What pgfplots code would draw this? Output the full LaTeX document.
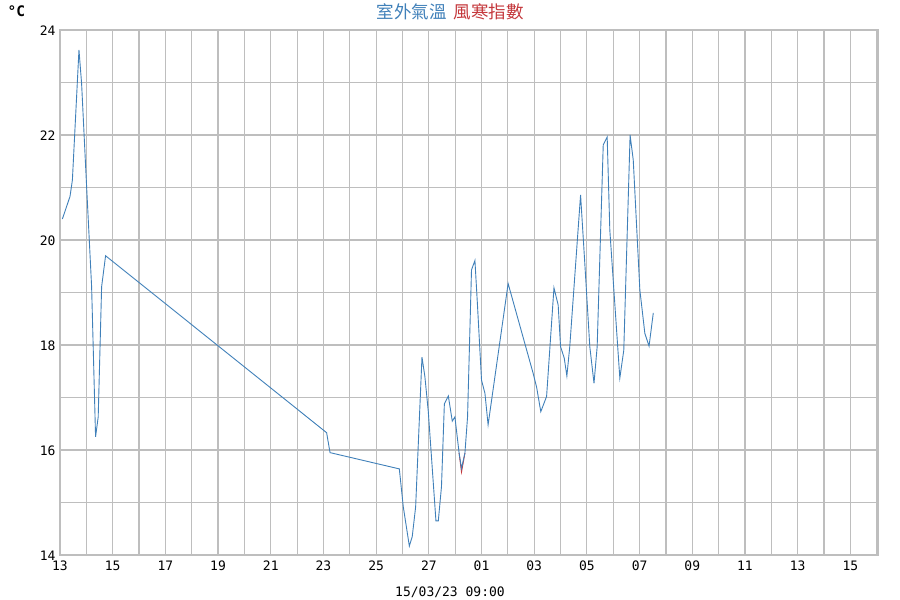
\documentclass[border=0pt]{standalone}
\usepackage{pgfplots}
\pgfplotsset{compat=1.18}
\usepackage{fontspec}
\setmonofont{DejaVu Sans Mono}
\newfontfamily\cjk{Noto Sans CJK TC}
\definecolor{tempblue}{RGB}{64,128,185}
\definecolor{chillred}{RGB}{196,56,60}
\definecolor{gridgray}{RGB}{190,190,190}
\begin{document}
\begin{tikzpicture}
\useasboundingbox (0,0) rectangle (900pt,600pt);
\begin{axis}[
  at={(60pt,45pt)}, anchor=south west,
  scale only axis, width=818pt, height=525pt,
  xmin=0, xmax=31.05, ymin=14, ymax=24,
  xtick={0,2,...,30},
  xticklabels={13,15,17,19,21,23,25,27,01,03,05,07,09,11,13,15},
  ytick={14,16,...,24},
  yticklabels={14,16,18,20,22,24},
  minor xtick={1,3,...,31},
  minor ytick={15,17,...,23},
  grid=both,
  major grid style={gridgray, line width=1.2pt},
  minor grid style={gridgray, line width=1.2pt},
  axis line style={gridgray, line width=1.2pt},
  major tick length=0pt, minor tick length=0pt,
  ticklabel style={font=\ttfamily\fontsize{13}{14}\selectfont},
  yticklabel style={xshift=-1pt, yshift=-1pt},
  xticklabel style={yshift=-2pt},
  clip=true,
]
\addplot[chillred, line width=0.9pt] coordinates {
(15.15,15.94) (15.24,15.58) (15.37,15.94)
};
\addplot[tempblue, line width=0.9pt] coordinates {
(0.09,20.40) (0.38,20.83) (0.47,21.14) (0.72,23.62) (0.82,22.98)
(1.01,21.02) (1.20,19.11) (1.35,16.25) (1.45,16.63) (1.58,19.11)
(1.73,19.70) (10.12,16.33) (10.25,15.95) (12.88,15.64) (13.03,14.92)
(13.26,14.17) (13.37,14.35) (13.50,14.92) (13.74,17.77) (13.85,17.40)
(13.98,16.73) (14.10,15.87) (14.27,14.65) (14.36,14.65) (14.48,15.30)
(14.59,16.88) (14.74,17.03) (14.89,16.55) (14.99,16.63) (15.15,15.94)
(15.24,15.65) (15.37,15.94) (15.47,16.63) (15.62,19.43) (15.75,19.61)
(15.85,18.73) (16.00,17.33) (16.13,17.08) (16.25,16.48) (17.01,19.17)
(17.96,17.46) (18.09,17.20) (18.25,16.73) (18.47,17.02) (18.75,19.09)
(18.91,18.76) (19.00,17.97) (19.14,17.75) (19.24,17.41) (19.35,17.97)
(19.76,20.86) (19.92,19.56) (20.11,17.97) (20.27,17.27) (20.39,17.97)
(20.62,21.81) (20.77,21.96) (20.87,20.19) (21.25,17.37) (21.40,17.90)
(21.64,22.00) (21.76,21.52) (22.01,19.05) (22.20,18.22) (22.36,17.98)
(22.52,18.61)
};
\end{axis}
\node[font=\cjk\fontsize{17.5}{18}\selectfont, anchor=center] at (450pt,588pt)
  {\textcolor{tempblue}{室外氣溫}\hspace{7pt}\textcolor{chillred}{風寒指數}};
\node[font=\ttfamily\bfseries\fontsize{14.5}{15}\selectfont, anchor=west] at (4pt,589pt) {°C};
\node[font=\ttfamily\fontsize{13}{14}\selectfont, anchor=center] at (450pt,8pt) {15/03/23 09:00};
\end{tikzpicture}
\end{document}
